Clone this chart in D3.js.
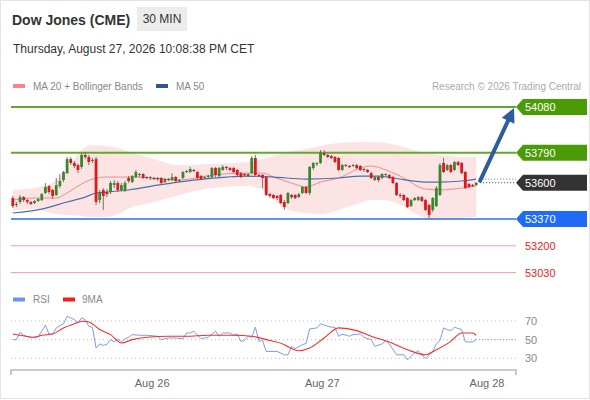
<!DOCTYPE html>
<html>
<head>
<meta charset="utf-8">
<script src="https://cdn.jsdelivr.net/npm/d3@7"></script>
<style>
  body { margin: 0; background: #fff; }
  svg { display: block; font-family: "Liberation Sans", Arial, sans-serif; }
</style>
</head>
<body>
<div id="chart"></div>
<script>
// ---------- data ----------
// 30 min candles, [open, high, low, close]
const candles = [
  [53503,53516,53440,53452],[53459,53478,53446,53465],[53478,53522,53465,53509],[53509,53516,53478,53490],
  [53490,53497,53465,53478],[53478,53484,53459,53465],[53471,53490,53465,53484],[53484,53503,53478,53497],
  [53490,53535,53484,53528],[53535,53598,53528,53573],[53579,53585,53528,53541],[53554,53560,53497,53516],
  [53522,53630,53516,53585],[53579,53655,53566,53611],[53617,53674,53604,53668],[53661,53763,53655,53750],
  [53750,53763,53712,53725],[53725,53738,53693,53706],[53712,53719,53661,53681],[53700,53788,53687,53776],
  [53776,53795,53750,53763],[53763,53776,53712,53731],[53738,53757,53725,53744],[53750,53763,53459,53478],
  [53490,53554,53471,53535],[53554,53566,53427,53516],[53541,53560,53509,53528],[53541,53611,53528,53598],
  [53585,53617,53566,53598],[53598,53611,53541,53554],[53554,53598,53547,53585],[53554,53611,53541,53598],
  [53630,53642,53598,53611],[53604,53649,53598,53642],[53636,53681,53630,53668],[53649,53661,53636,53655],
  [53655,53661,53623,53630],[53636,53642,53623,53630],[53630,53642,53617,53636],[53630,53636,53617,53623],
  [53630,53636,53611,53623],[53630,53636,53592,53598],[53604,53630,53598,53623],[53623,53630,53611,53617],
  [53617,53661,53611,53636],[53636,53642,53604,53611],[53611,53623,53604,53617],[53630,53674,53623,53668],
  [53668,53681,53661,53674],[53668,53700,53661,53687],[53681,53687,53668,53674],[53668,53674,53623,53630],
  [53642,53649,53617,53623],[53630,53642,53623,53636],[53636,53649,53630,53642],[53636,53700,53630,53693],
  [53693,53700,53636,53649],[53642,53700,53636,53693],[53681,53712,53674,53700],[53700,53706,53681,53693],
  [53693,53700,53674,53681],[53693,53700,53661,53668],[53681,53687,53642,53649],[53661,53668,53630,53636],
  [53655,53661,53636,53649],[53642,53661,53636,53655],[53661,53769,53655,53757],[53757,53776,53642,53649],
  [53649,53655,53636,53642],[53649,53655,53566,53630],[53636,53642,53516,53522],[53528,53535,53503,53516],
  [53522,53528,53497,53503],[53516,53522,53490,53503],[53522,53528,53465,53471],[53478,53490,53427,53446],
  [53471,53541,53465,53535],[53522,53528,53497,53509],[53522,53528,53497,53503],[53509,53535,53503,53528],
  [53535,53579,53528,53573],[53573,53579,53528,53535],[53535,53706,53522,53700],[53693,53731,53681,53725],
  [53719,53731,53706,53725],[53725,53807,53719,53788],[53788,53807,53769,53776],[53776,53782,53757,53763],
  [53769,53776,53750,53757],[53763,53769,53725,53731],[53757,53763,53674,53681],[53681,53719,53674,53712],
  [53712,53719,53700,53706],[53706,53712,53693,53700],[53706,53719,53700,53712],[53712,53719,53687,53693],
  [53706,53712,53674,53681],[53687,53693,53668,53681],[53681,53687,53661,53668],[53661,53668,53623,53630],
  [53617,53642,53611,53636],[53636,53642,53604,53617],[53630,53661,53623,53655],[53649,53661,53642,53655],
  [53649,53655,53623,53630],[53636,53642,53592,53598],[53598,53604,53516,53522],[53522,53535,53503,53516],
  [53522,53528,53484,53490],[53503,53509,53440,53446],[53452,53497,53446,53490],[53490,53509,53484,53503],
  [53490,53516,53484,53509],[53509,53516,53478,53484],[53490,53497,53421,53427],[53459,53465,53376,53395],
  [53427,53509,53414,53503],[53452,53579,53446,53566],[53522,53725,53516,53712],[53725,53757,53661,53668],
  [53681,53719,53674,53712],[53712,53719,53661,53668],[53681,53738,53674,53731],[53731,53738,53706,53712],
  [53725,53731,53655,53661],[53668,53674,53560,53566],[53592,53598,53566,53573],[53585,53592,53573,53579],
  [53585,53604,53579,53600]
];

// MA 20 + Bollinger bands, sampled at candle indices
const bandIdx = [0, 6, 12, 15, 19, 22, 26, 29, 33, 38, 46, 55, 65, 69, 72, 77, 81, 85, 90, 96, 99, 103, 107, 114, 118, 124, 128];
const ma20    = [53490,53503,53503,53535,53592,53623,53636,53636,53636,53630,53617,53649,53661,53661,53636,53598,53573,53604,53630,53693,53706,53681,53642,53560,53554,53566,53579];
const bbUpper = [53554,53566,53617,53681,53807,53839,53833,53820,53788,53757,53712,53719,53731,53750,53769,53801,53814,53833,53852,53858,53858,53852,53833,53788,53776,53763,53763];
const bbLower = [53421,53433,53401,53395,53389,53382,53382,53401,53446,53471,53522,53566,53579,53554,53490,53421,53408,53401,53427,53471,53490,53490,53459,53376,53363,53376,53382];

// MA 50
const ma50Idx = [0, 8, 15, 20, 23, 26, 32, 40, 50, 59, 64, 72, 81, 90, 96, 101, 105, 114, 118, 124, 128];
const ma50    = [53408,53433,53478,53509,53535,53541,53554,53585,53617,53636,53642,53636,53623,53630,53642,53642,53630,53604,53604,53611,53623];

// key levels on the right
const levelValues = [54080, 53790, 53600, 53370, 53200, 53030];
const levelKinds  = ['res', 'res', 'last', 'sup', 'minor', 'minor'];

// RSI and its 9 period average
const rsiIdx = [0,1,2,3,5,7,8,9,10,11,12,14,15,17,18,19,20,21,22,23,24,25,26,27,28,29,30,31,32,33,35,37,40,41,43,45,47,48,49,50,52,53,54,56,57,58,60,61,62,63,64,65,66,67,68,69,70,73,75,76,77,78,80,81,82,84,85,87,88,89,90,91,93,94,96,97,99,100,102,103,104,106,108,109,111,112,114,116,117,118,119,120,121,122,124,125,127,128];
const rsiVal = [50,50,58,54.7,52,53.6,59,65.5,56,56,62.6,67,75,71.6,68,73.4,71.6,64.4,63.3,41,45.4,43.8,45,50,47.5,51,47.5,51,52.5,55.4,54.7,54.7,53.6,50,51.8,51.8,51,57.2,57.2,59,51,51.8,52.5,59,53.6,57.2,57.2,54.7,56,48.2,49,53.6,52.5,63.3,48.2,49,37.4,37.4,33.8,33.8,42.8,40.3,44.6,46,61.5,62.6,67,64.4,63.3,63.3,53.6,56,53.6,55.4,56,52.5,50,42.8,45.4,49,45.4,33.8,33.8,28.4,35.6,38.1,29.5,37.4,45.4,49,62.6,60.8,59.7,63.3,60.8,47.5,47.5,50];
const rsiMaIdx = [0,2,6,8,11,14,17,19,21,24,27,30,33,37,43,48,54,61,66,70,75,77,79,82,86,90,95,99,104,109,114,117,121,124,127,128];
const rsiMaVal = [56,54.7,52.5,54.7,56,62.6,67,69.8,69,60.8,55.4,46.4,50,52.5,53.6,53.6,54.7,54.7,53.6,50,44.6,40.3,38.1,41,51.8,62.6,59.7,53.6,47.5,39.2,33.8,39.2,48.2,57.2,57.2,54.7];
const rsiTicks = [70, 50, 30];

// day labels on the time axis (candle index positions)
const dayTicks  = [38.5, 85.5, 131];
const dayLabels = ['Aug 26', 'Aug 27', 'Aug 28'];

// ---------- setup ----------
const width = 590, height = 400;
const svg = d3.select('#chart').append('svg')
  .attr('width', width)
  .attr('height', height);

svg.append('rect')
  .attr('x', 0.5).attr('y', 0.5)
  .attr('width', width - 1).attr('height', height - 2)
  .attr('fill', '#fff').attr('stroke', '#e4e4e4');

const x = d3.scaleLinear().domain([-0.5, 139]).range([11, 516]);
const y = d3.scaleLinear().domain([53370, 54080]).range([219, 107]);
const yr = d3.scaleLinear().domain([30, 70]).range([358.3, 321]);
const last = candles.length - 1;

// ---------- header ----------
svg.append('text').attr('x', 12).attr('y', 24.5)
  .attr('font-size', 14).attr('font-weight', 'bold').attr('fill', '#333')
  .text('Dow Jones (CME)');
svg.append('rect').attr('x', 137).attr('y', 7).attr('width', 50).attr('height', 24)
  .attr('fill', '#ececec');
svg.append('text').attr('x', 162).attr('y', 23).attr('text-anchor', 'middle')
  .attr('font-size', 12).attr('fill', '#333').text('30 MIN');
svg.append('text').attr('x', 13).attr('y', 53)
  .attr('font-size', 12).attr('fill', '#333')
  .text('Thursday, August 27, 2026 10:08:38 PM CET');

// legend
const legend = svg.append('g').attr('font-size', 10).attr('fill', '#888');
legend.append('rect').attr('x', 13).attr('y', 84).attr('width', 12).attr('height', 4).attr('fill', '#ff8383');
legend.append('text').attr('x', 33).attr('y', 90).text('MA 20 + Bollinger Bands');
legend.append('rect').attr('x', 156).attr('y', 84).attr('width', 12).attr('height', 4).attr('fill', '#2f5597');
legend.append('text').attr('x', 176).attr('y', 90).text('MA 50');
legend.append('text').attr('x', 581).attr('y', 90).attr('text-anchor', 'end').attr('fill', '#aaa')
  .text('Research \u00a9 2026 Trading Central');

// ---------- price panel ----------
const band = d3.area()
  .x((d, i) => x(bandIdx[i]))
  .y0((d, i) => y(bbLower[i]))
  .y1((d, i) => y(bbUpper[i]))
  .curve(d3.curveMonotoneX);
svg.append('path').datum(bandIdx).attr('d', band).attr('fill', '#fde4e4');

const lineOf = (idx, vals, sc) => d3.line()
  .x((d, i) => x(idx[i]))
  .y((d, i) => sc(vals[i]))
  .curve(d3.curveMonotoneX)(idx);

svg.append('path').attr('d', lineOf(bandIdx, ma20, y))
  .attr('fill', 'none').attr('stroke', '#f58a8a').attr('stroke-width', 1);
svg.append('path').attr('d', lineOf(ma50Idx, ma50, y))
  .attr('fill', 'none').attr('stroke', '#4a6fae').attr('stroke-width', 1.2);
svg.append('line')
  .attr('x1', x(last) + 3).attr('x2', 516)
  .attr('y1', y(ma50[ma50.length - 1])).attr('y2', y(ma50[ma50.length - 1]))
  .attr('stroke', '#5b78b0').attr('stroke-dasharray', '1,2');

// levels
const levels = svg.append('g');
levelValues.forEach(function(v, k) {
  const kind = levelKinds[k], ly = y(v);
  if (kind === 'res' || kind === 'sup') {
    levels.append('line').attr('x1', 11).attr('x2', 516).attr('y1', ly).attr('y2', ly)
      .attr('stroke', kind === 'res' ? '#62a82c' : '#2d6fe0')
      .attr('stroke-width', kind === 'res' ? 2 : 1.5);
  } else if (kind === 'minor') {
    levels.append('line').attr('x1', 11).attr('x2', 516).attr('y1', ly).attr('y2', ly)
      .attr('stroke', '#f59a9a').attr('stroke-width', 1);
  } else {
    levels.append('line').attr('x1', x(last) + 4).attr('x2', 516).attr('y1', ly).attr('y2', ly)
      .attr('stroke', '#333').attr('stroke-dasharray', '1,2');
  }
  if (kind === 'minor') {
    levels.append('text').attr('x', 525).attr('y', ly + 4)
      .attr('font-size', 11).attr('fill', '#f0201c').text(v);
  } else {
    const fill = kind === 'res' ? '#4b9b06' : kind === 'sup' ? '#1f6bf5' : '#333';
    levels.append('path')
      .attr('d', `M516,${ly} L523,${ly - 8} L587,${ly - 8} L587,${ly + 8} L523,${ly + 8} Z`)
      .attr('fill', fill);
    levels.append('text').attr('x', 525).attr('y', ly + 4)
      .attr('font-size', 11).attr('fill', '#fff').text(v);
  }
});

// candles
const bodyW = 2.8;
const cg = svg.append('g');
candles.forEach(function(d, i) {
  const [o, h, l, c] = d;
  const up = c >= o;
  cg.append('line')
    .attr('x1', x(i)).attr('x2', x(i))
    .attr('y1', y(h)).attr('y2', y(l))
    .attr('stroke', '#555').attr('stroke-width', 0.8);
  cg.append('rect')
    .attr('x', x(i) - bodyW / 2).attr('width', bodyW)
    .attr('y', y(Math.max(o, c)))
    .attr('height', Math.max(1, Math.abs(y(o) - y(c))))
    .attr('fill', up ? '#378a2c' : '#e0181c');
});

// forecast arrow from the last close to the first target
const ax0 = x(last) + 4, ay0 = y(candles[last][3]) - 2;
const ax1 = 514, ay1 = y(levelValues[0]) + 1;
const len = Math.hypot(ax1 - ax0, ay1 - ay0);
const ux = (ax1 - ax0) / len, uy = (ay1 - ay0) / len;
const headL = 14, headW = 7;
const bx = ax1 - ux * headL, by = ay1 - uy * headL;
svg.append('line').attr('x1', ax0).attr('y1', ay0).attr('x2', bx + ux * 2).attr('y2', by + uy * 2)
  .attr('stroke', '#2e5c9e').attr('stroke-width', 4).attr('stroke-linecap', 'round');
svg.append('path')
  .attr('d', `M${ax1},${ay1} L${bx - uy * headW},${by + ux * headW} L${bx + uy * headW},${by - ux * headW} Z`)
  .attr('fill', '#2e5c9e');

// ---------- RSI panel ----------
const rl = svg.append('g').attr('font-size', 10).attr('fill', '#888');
rl.append('rect').attr('x', 13).attr('y', 297.5).attr('width', 12).attr('height', 4).attr('fill', '#6f94ee');
rl.append('text').attr('x', 33).attr('y', 302.5).text('RSI');
rl.append('rect').attr('x', 63).attr('y', 297.5).attr('width', 12).attr('height', 4).attr('fill', '#ff1a1a');
rl.append('text').attr('x', 82).attr('y', 302.5).text('9MA');

rsiTicks.forEach(function(t) {
  svg.append('line').attr('x1', 11).attr('x2', 516).attr('y1', yr(t)).attr('y2', yr(t))
    .attr('stroke', '#bbb').attr('stroke-dasharray', '1,3');
  svg.append('text').attr('x', 525).attr('y', yr(t) + 4)
    .attr('font-size', 11).attr('fill', '#888').text(t);
});

svg.append('path')
  .attr('d', d3.line().x((d, i) => x(rsiIdx[i])).y((d, i) => yr(rsiVal[i]))(rsiIdx))
  .attr('fill', 'none').attr('stroke', '#7b9df0').attr('stroke-width', 1);
svg.append('line')
  .attr('x1', x(last)).attr('x2', 516)
  .attr('y1', yr(rsiVal[rsiVal.length - 1])).attr('y2', yr(rsiVal[rsiVal.length - 1]))
  .attr('stroke', '#7b9df0').attr('stroke-dasharray', '1,2');
svg.append('path').attr('d', lineOf(rsiMaIdx, rsiMaVal, yr))
  .attr('fill', 'none').attr('stroke', '#ff2a2a').attr('stroke-width', 1.1);

// time axis
svg.append('path')
  .attr('d', 'M11,375 L11,370 L516,370 L516,375')
  .attr('fill', 'none').attr('stroke', '#bbb').attr('stroke-width', 1.6);
dayTicks.forEach(function(t, k) {
  svg.append('text').attr('x', x(t)).attr('y', 386.5).attr('text-anchor', 'middle')
    .attr('font-size', 11).attr('fill', '#666').text(dayLabels[k]);
});
</script>
</body>
</html>
